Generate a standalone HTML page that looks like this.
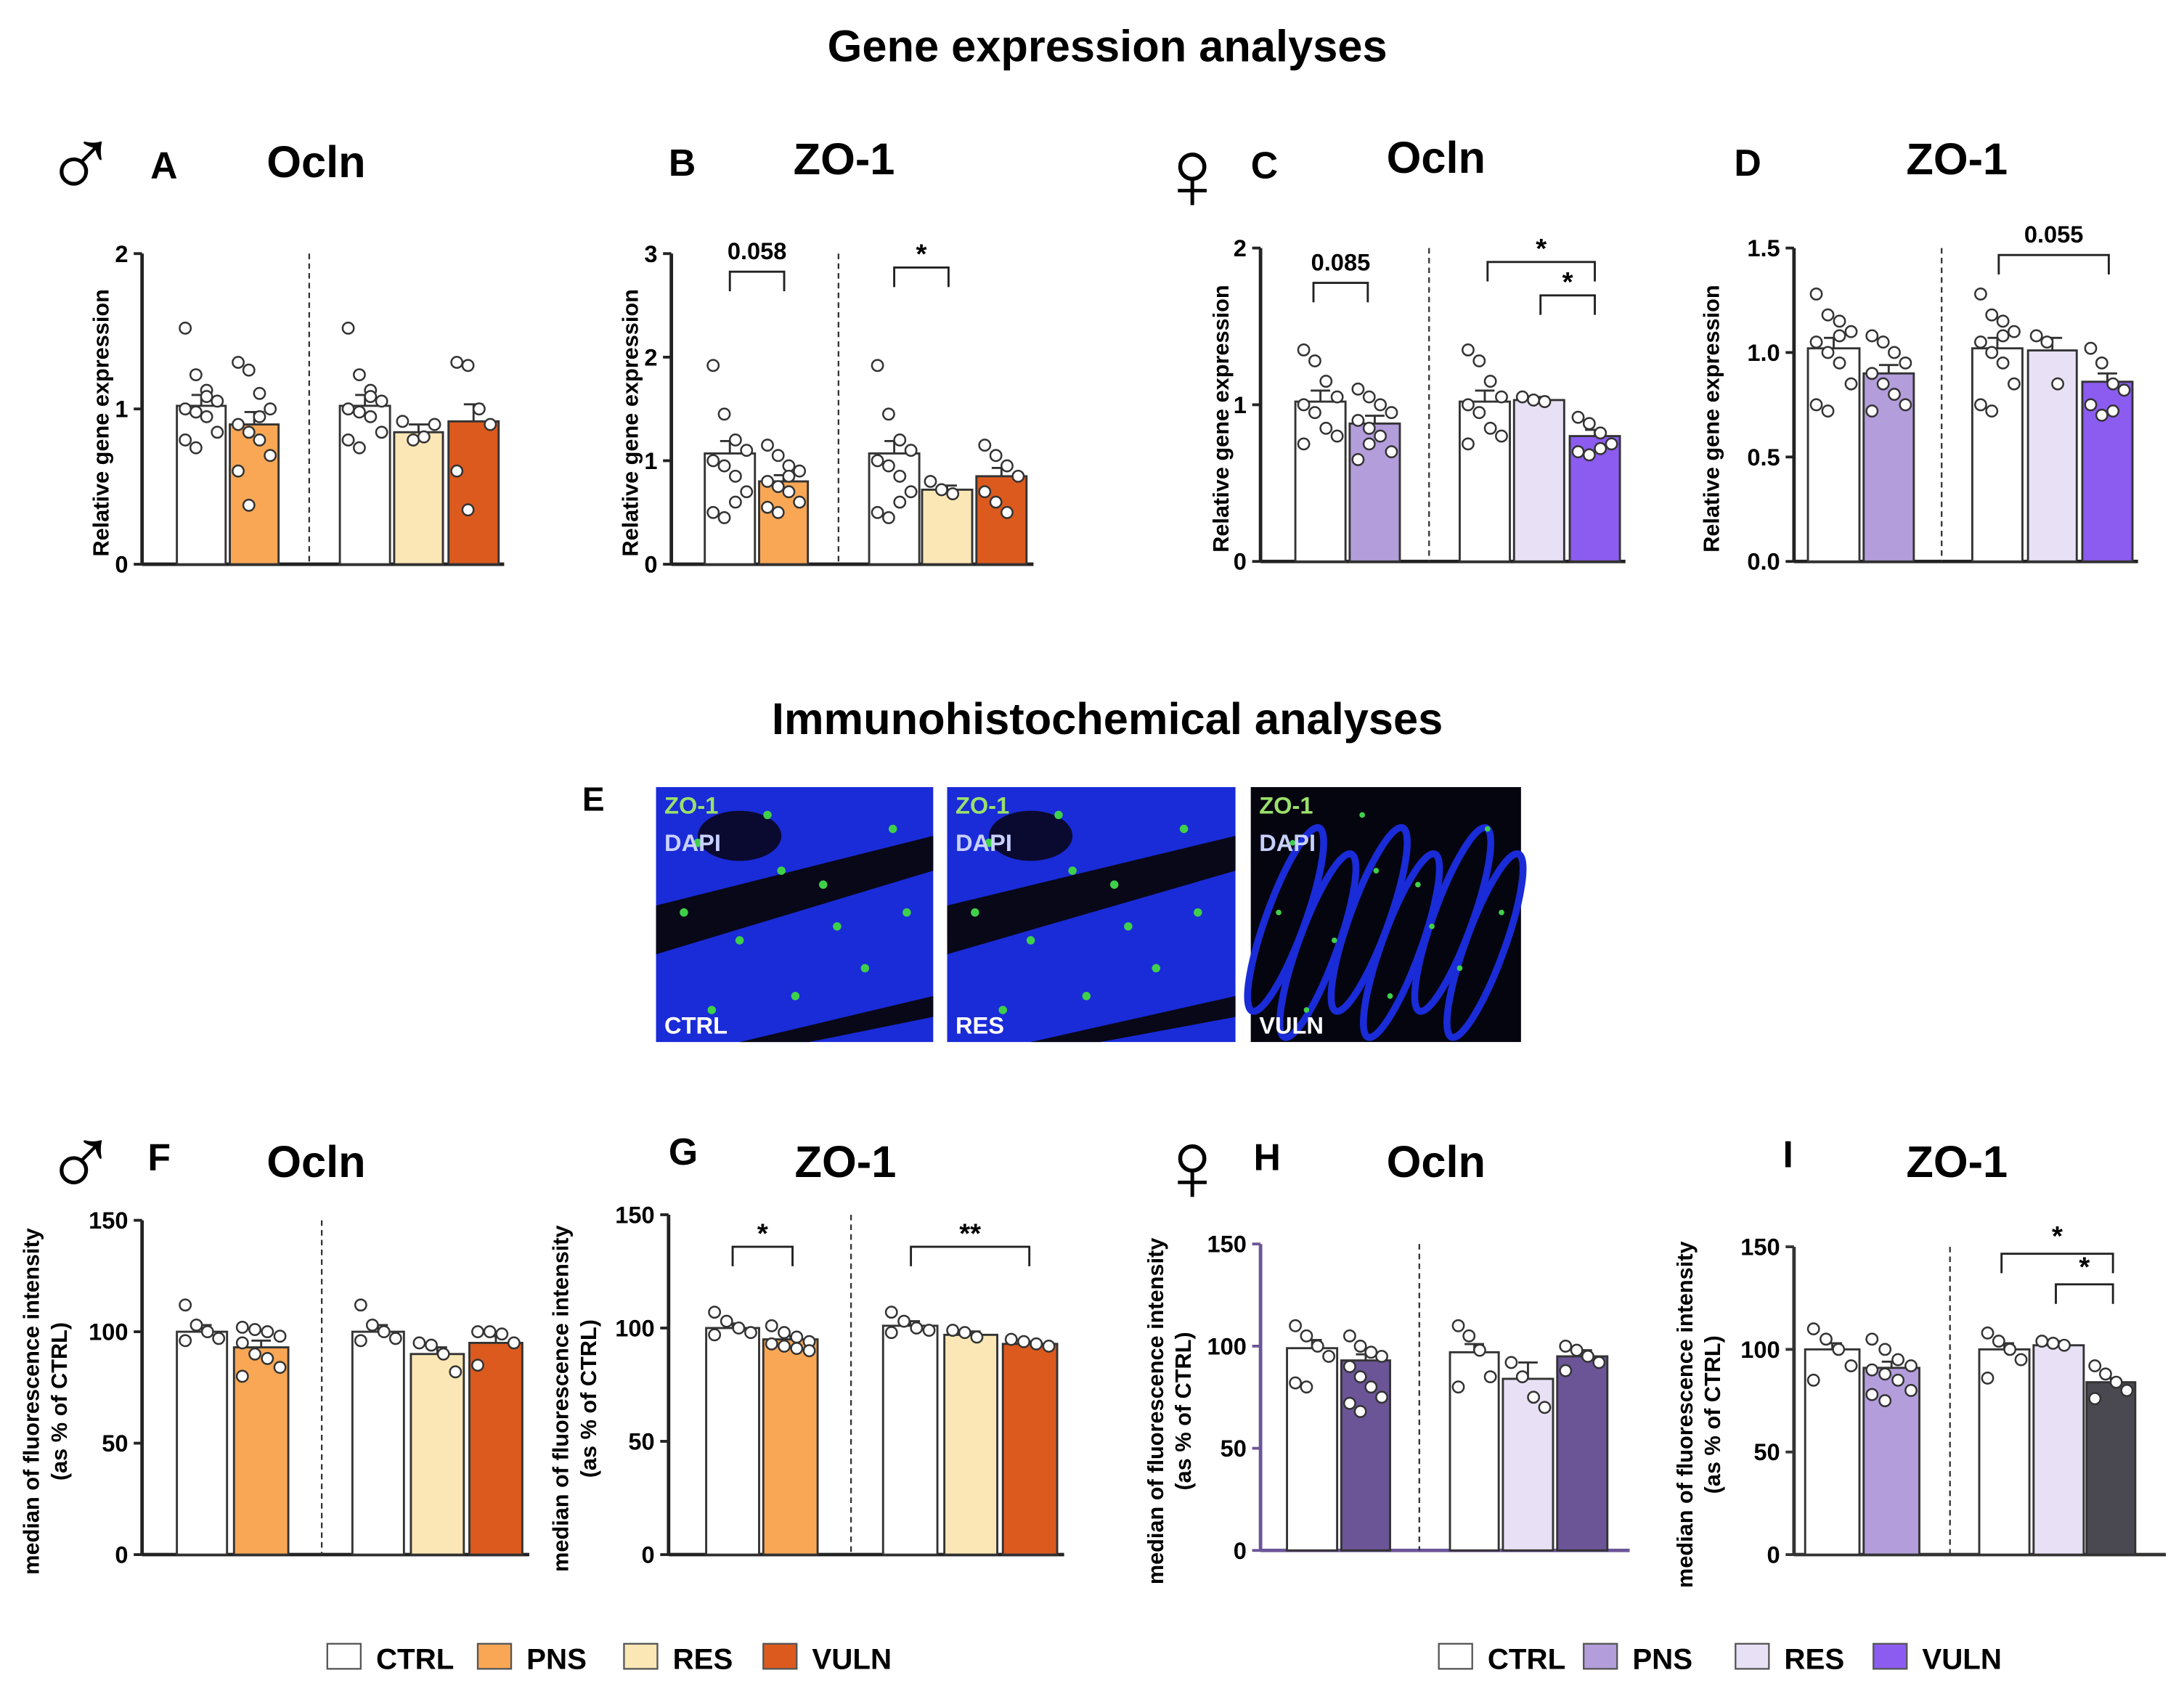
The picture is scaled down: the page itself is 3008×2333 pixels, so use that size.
<!DOCTYPE html>
<html><head><meta charset="utf-8"><style>
html,body{margin:0;padding:0;background:#fff;}
svg{display:block;font-family:"Liberation Sans",Arial,sans-serif;}
</style></head><body>
<svg id="fig" xmlns="http://www.w3.org/2000/svg" width="3008" height="2333" viewBox="0 0 1568 1216">
<rect width="1568" height="1216" fill="#fff"/>
<text x="795" y="44" text-anchor="middle" font-size="32" font-weight="bold">Gene expression analyses</text>
<text x="795" y="527" text-anchor="middle" font-size="32" font-weight="bold">Immunohistochemical analyses</text>
<text x="418" y="582" font-size="24" font-weight="bold">E</text>
<g id="imgs"></g>
<g id="charts"></g>
<g id="legends"></g>
</svg>
<script>
// ---- data arrays ----
const A_means=[1.02,0.9,1.02,0.85,0.92];
const A_sem=[0.07,0.08,0.07,0.05,0.11];
const A_pts=[[1.52,1.22,1.12,1.05,1.0,0.98,0.95,0.85,0.8,0.75,1.08],[1.3,1.25,1.1,1.0,0.9,0.85,0.8,0.7,0.6,0.38,0.95],[1.52,1.22,1.12,1.05,1.0,0.98,0.95,0.85,0.8,0.75,1.08],[0.92,0.8,0.82,0.9],[1.3,1.28,1.0,0.9,0.6,0.35]];
const A_ticks=[0,1,2];
const B_means=[1.07,0.8,1.07,0.72,0.85];
const B_sem=[0.12,0.06,0.12,0.04,0.08];
const B_pts=[[1.92,1.45,1.2,1.1,1.0,0.95,0.85,0.7,0.5,0.45,0.6],[1.15,1.05,0.95,0.9,0.8,0.75,0.7,0.6,0.55,0.5,0.85],[1.92,1.45,1.2,1.1,1.0,0.95,0.85,0.7,0.5,0.45,0.6],[0.8,0.72,0.68],[1.15,1.05,0.95,0.85,0.7,0.6,0.5]];
const B_ticks=[0,1,2,3];
const C_means=[1.02,0.88,1.02,1.03,0.8];
const C_sem=[0.07,0.05,0.07,0.02,0.04];
const C_pts=[[1.35,1.28,1.15,1.05,1.0,0.95,0.85,0.8,0.75],[1.1,1.05,1.0,0.95,0.9,0.85,0.8,0.7,0.65,0.75],[1.35,1.28,1.15,1.05,1.0,0.95,0.85,0.8,0.75],[1.05,1.03,1.02],[0.92,0.88,0.82,0.75,0.7,0.68,0.72]];
const C_ticks=[0,1,2];
const D_means=[1.02,0.9,1.02,1.01,0.86];
const D_sem=[0.05,0.04,0.05,0.06,0.04];
const D_pts=[[1.28,1.18,1.15,1.1,1.05,1.0,0.95,0.85,0.75,0.72,1.08],[1.08,1.05,1.0,0.95,0.9,0.85,0.8,0.75,0.72],[1.28,1.18,1.15,1.1,1.05,1.0,0.95,0.85,0.75,0.72,1.08],[1.08,1.05,0.85],[1.02,0.95,0.85,0.82,0.75,0.7,0.72]];
const D_ticks=[0,0.5,1.0,1.5];
const F_means=[100,93,100,90,95];
const F_sem=[3,3,3,3,3];
const F_pts=[[112,103,100,97,96],[102,101,100,98,95,90,88,84,80],[112,103,100,97,96],[95,94,90,82],[100,100,99,95,85]];
const G_means=[100,95,101,97,93];
const G_sem=[2,1.5,2,1.5,1];
const G_pts=[[107,103,100,98,97],[101,98,96,94,93,92,91,90],[107,103,100,99,98],[99,98,96],[95,94,93,92]];
const H_means=[99,93,97,84,95];
const H_sem=[4,3,4,8,3];
const H_pts=[[110,105,100,95,82,80],[105,100,97,95,90,85,80,75,72,68],[110,105,98,85,80],[92,85,75,70],[100,98,95,92,88]];
const I_means=[100,91,100,102,84];
const I_sem=[3,3,3,2,2];
const I_pts=[[110,105,100,92,85],[105,100,95,92,90,88,85,80,78,75],[108,104,100,95,86],[104,103,102],[92,88,84,80,76]];
const FHI_ticks=[0,50,100,150];
const groups=['CTRL','PNS','CTRL','RES','VULN'];

const NS='http://www.w3.org/2000/svg';
function el(tag,attrs,parent){const e=document.createElementNS(NS,tag);for(const k in attrs)e.setAttribute(k,attrs[k]);if(parent)parent.appendChild(e);return e;}

const panels=[
 {id:'a',letter:'A',title:'Ocln',means:A_means,sem:A_sem,pts:A_pts,ticks:A_ticks,max:2,ax:102,y0:405,y1:182,xe:362,bars:[[127,162],[165,200],[244,280],[283,318],[322,358]],dash:222,cols:['#fff','#f9a755','#fff','#fbe7b5','#dc5a1e'],lx:108,ly:128,tx:227,ty:127,ylab:['Relative gene expression'],ylx:78,axc:'#222',dec:0,brackets:[]},
 {id:'b',letter:'B',title:'ZO-1',means:B_means,sem:B_sem,pts:B_pts,ticks:B_ticks,max:3,ax:482,y0:405,y1:182,xe:742,bars:[[506,542],[545,580],[624,660],[662,698],[701,737]],dash:602,cols:['#fff','#f9a755','#fff','#fbe7b5','#dc5a1e'],lx:480,ly:126,tx:606,ty:125,ylab:['Relative gene expression'],ylx:458,axc:'#222',dec:0,brackets:[[524,563,195,'0.058',210],[642,681,192,'*',205]]},
 {id:'c',letter:'C',title:'Ocln',means:C_means,sem:C_sem,pts:C_pts,ticks:C_ticks,max:2,ax:905,y0:403,y1:178,xe:1167,bars:[[930,966],[969,1005],[1048,1084],[1087,1123],[1127,1163]],dash:1026,cols:['#fff','#b39ddb','#fff','#e8e1f5','#8c5cf0'],lx:898,ly:128,tx:1031,ty:124,ylab:['Relative gene expression'],ylx:882,axc:'#222',dec:0,brackets:[[943,982,203,'0.085',217],[1068,1145,188,'*',201],[1106,1145,212,'*',225]]},
 {id:'d',letter:'D',title:'ZO-1',means:D_means,sem:D_sem,pts:D_pts,ticks:D_ticks,max:1.5,ax:1288,y0:403,y1:178,xe:1535,bars:[[1298,1335],[1338,1374],[1416,1452],[1456,1491],[1495,1531]],dash:1394,cols:['#fff','#b39ddb','#fff','#e8e1f5','#8c5cf0'],lx:1245,ly:126,tx:1405,ty:125,ylab:['Relative gene expression'],ylx:1234,axc:'#222',dec:1,brackets:[[1435,1514,183,'0.055',192]]},
 {id:'f',letter:'F',title:'Ocln',means:F_means,sem:F_sem,pts:F_pts,ticks:FHI_ticks,max:150,ax:102,y0:1116,y1:876,xe:380,bars:[[127,163],[168,207],[253,290],[295,333],[337,375]],dash:231,cols:['#fff','#f9a755','#fff','#fbe7b5','#dc5a1e'],lx:106,ly:840,tx:227,ty:845,ylab:['median of fluorescence intensity','(as % of CTRL)'],ylx:28,axc:'#222',dec:0,brackets:[]},
 {id:'g',letter:'G',title:'ZO-1',means:G_means,sem:G_sem,pts:G_pts,ticks:FHI_ticks,max:150,ax:480,y0:1116,y1:872,xe:764,bars:[[507,545],[548,587],[634,673],[678,716],[720,759]],dash:611,cols:['#fff','#f9a755','#fff','#fbe7b5','#dc5a1e'],lx:480,ly:836,tx:607,ty:845,ylab:['median of fluorescence intensity','(as % of CTRL)'],ylx:408,axc:'#222',dec:0,brackets:[[526,569,895,'*',914],[654,739,895,'**',912]]},
 {id:'h',letter:'H',title:'Ocln',means:H_means,sem:H_sem,pts:H_pts,ticks:FHI_ticks,max:150,ax:905,y0:1113,y1:893,xe:1170,bars:[[924,960],[963,998],[1041,1076],[1079,1115],[1118,1154]],dash:1019,cols:['#fff','#6b5597','#fff','#e8e1f5','#6b5597'],lx:900,ly:840,tx:1031,ty:845,ylab:['median of fluorescence intensity','(as % of CTRL)'],ylx:835,axc:'#6b5597',dec:0,brackets:[]},
 {id:'i',letter:'I',title:'ZO-1',means:I_means,sem:I_sem,pts:I_pts,ticks:FHI_ticks,max:150,ax:1288,y0:1116,y1:895,xe:1555,bars:[[1296,1335],[1338,1378],[1421,1457],[1460,1496],[1498,1533]],dash:1400,cols:['#fff','#b39ddb','#fff','#e8e1f5','#4a4850'],lx:1280,ly:838,tx:1405,ty:845,ylab:['median of fluorescence intensity','(as % of CTRL)'],ylx:1215,axc:'#333',dec:0,brackets:[[1437,1517,900,'*',894],[1476,1517,922,'*',916]]}
];

const charts=document.getElementById('charts');
panels.forEach(p=>{
  const g=el('g',{},charts);
  
  
  const yS=v=>p.y0-(v/p.max)*(p.y0-p.y1);
  const lt=el('text',{x:p.lx,y:p.ly,'font-size':27,'font-weight':'bold'},g);lt.textContent=p.letter;
  
  
  const tt=el('text',{x:p.tx,y:p.ty,'font-size':32,'font-weight':'bold','text-anchor':'middle'},g);tt.textContent=p.title;
  
  
  const mid=(p.y0+p.y1)/2+10;
  p.ylab.forEach((s,i)=>{
    const t=el('text',{x:0,y:0,'font-size':16,'font-weight':'bold','text-anchor':'middle',transform:`translate(${p.ylx+i*20},${mid}) rotate(-90)`},g);t.textContent=s;
    
    
  });
  const ax=el('line',{x1:p.ax,y1:p.y1,x2:p.ax,y2:p.y0,stroke:p.axc,'stroke-width':2.5},g);
  
  
  const xa=el('line',{x1:p.ax,y1:p.y0,x2:p.xe,y2:p.y0,stroke:p.axc,'stroke-width':2.5},g);
  
  
  p.ticks.forEach(t=>{
    const y=yS(t);
    el('line',{x1:p.ax-6,y1:y,x2:p.ax,y2:y,stroke:p.axc,'stroke-width':2},g);
    const tl=el('text',{x:p.ax-10,y:y+6,'font-size':17,'font-weight':'bold','text-anchor':'end'},g);
    tl.textContent=p.dec?t.toFixed(1):t;
    
    
  });
  const dl=el('line',{x1:p.dash,y1:p.y1,x2:p.dash,y2:p.y0,stroke:'#333','stroke-width':1.2,'stroke-dasharray':'4,3'},g);
  
  
  p.bars.forEach((b,i)=>{
    const top=yS(p.means[i]);
    const r=el('rect',{x:b[0],y:top,width:b[1]-b[0],height:p.y0-top,fill:p.cols[i],stroke:'#333','stroke-width':1.5},g);
    
    
    const cx=(b[0]+b[1])/2, ey=yS(p.means[i]+p.sem[i]);
    el('line',{x1:cx,y1:top,x2:cx,y2:ey,stroke:'#333','stroke-width':1.5},g);
    el('line',{x1:cx-7,y1:ey,x2:cx+7,y2:ey,stroke:'#333','stroke-width':1.5},g);
    const n=p.pts[i].length, w=b[1]-b[0]-12;
    p.pts[i].forEach((v,j)=>{
      const px=b[0]+6+(n>1?(j%4)/3*w:w/2);
      const c=el('circle',{cx:px,cy:yS(v),r:4,fill:'#fff',stroke:'#333','stroke-width':1.3},g);
      
      
    });
  });
  p.brackets.forEach(br=>{
    const [x1,x2,y,lab,ly]=br;
    const pl=el('polyline',{points:`${x1},${y+14} ${x1},${y} ${x2},${y} ${x2},${y+14}`,fill:'none',stroke:'#222','stroke-width':1.5},g);
    
    
    const t=el('text',{x:(x1+x2)/2,y:lab.length>2?y-9:(ly<y?ly:y-3),'font-size':lab.length>2?17:20,'font-weight':'bold','text-anchor':'middle'},g);
    t.textContent=lab;
    
    
  });
});
// sex symbols
[[58,118,'♂'],[58,835,'♂'],[856,126,'♀'],[856,838,'♀']].forEach(s=>{
  const t=el('text',{x:s[0],y:s[1]+24,'font-size':72,'text-anchor':'middle'},document.getElementById('charts'));
  t.textContent=s[2];
  
  
});
// images
const imgs=document.getElementById('imgs');
const greenDots=[[30,40],[80,20],[120,70],[60,110],[150,130],[170,30],[40,160],[100,150],[130,100],[20,90],[180,90],[90,60]];
[[471,670,'CTRL'],[680,887,'RES'],[898,1092,'VULN']].forEach((m,k)=>{
  const g=el('g',{},imgs);
  
  
  el('rect',{x:m[0],y:565,width:m[1]-m[0],height:183,fill:k==2?'#050510':'#1a2bd8'},g);
  if(k<2){
    el('path',{d:`M${m[0]} ${650} L${m[1]} ${600} L${m[1]} ${625} L${m[0]} ${685}Z`,fill:'#080818'},g);
    el('path',{d:`M${m[0]+60} 748 L${m[1]} 715 L${m[1]} 730 L${m[0]+110} 748Z`,fill:'#080818'},g);
    el('ellipse',{cx:m[0]+60,cy:600,rx:30,ry:18,fill:'#0a0a30'},g);
    greenDots.forEach(d=>el('circle',{cx:m[0]+d[0],cy:565+d[1],r:3,fill:'#3fd04a'},g));
  } else {
    for(let i=0;i<6;i++){el('ellipse',{cx:m[0]+25+i*30,cy:660+(i%2)*20,rx:14,ry:70,fill:'none',stroke:'#1a2bd8','stroke-width':5,transform:`rotate(20 ${m[0]+25+i*30} 660)`},g);}
    greenDots.forEach(d=>el('circle',{cx:m[0]+d[0],cy:565+d[1],r:2,fill:'#3fd04a'},g));
  }
  const t1=el('text',{x:m[0]+6,y:584,'font-size':17,'font-weight':'bold',fill:'#9ae06a'},g);t1.textContent='ZO-1';
  const t2=el('text',{x:m[0]+6,y:611,'font-size':17,'font-weight':'bold',fill:'#c8d0ff'},g);t2.textContent='DAPI';
  const t3=el('text',{x:m[0]+6,y:742,'font-size':17,'font-weight':'bold',fill:'#fff'},g);t3.textContent=m[2];
});
// legends
const leg=document.getElementById('legends');
[[[235,'CTRL','#fff'],[343,'PNS','#f9a755'],[448,'RES','#fbe7b5'],[548,'VULN','#dc5a1e']],
 [[1033,'CTRL','#fff'],[1137,'PNS','#b39ddb'],[1246,'RES','#e8e1f5'],[1345,'VULN','#8c5cf0']]].forEach((L,li)=>{
  L.forEach(e=>{
    const g=el('g',{},leg);
    
    
    el('rect',{x:e[0],y:1180,width:24,height:18,fill:e[2],stroke:'#555','stroke-width':1.2},g);
    const t=el('text',{x:e[0]+35,y:1198,'font-size':21,'font-weight':'bold'},g);t.textContent=e[1];
  });
});
</script>
</body></html>
